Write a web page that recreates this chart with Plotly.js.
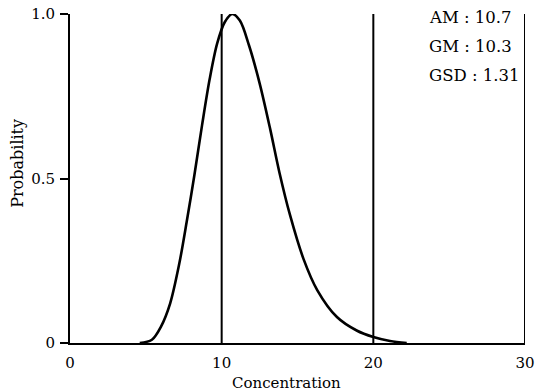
<!DOCTYPE html>
<html>
<head>
<meta charset="utf-8">
<script src="https://cdn.plot.ly/plotly-3.0.1.min.js"></script>
<style>html,body{margin:0;padding:0;background:#fff;}#chart{width:535px;height:391px;}</style>
</head>
<body>
<div id="chart"></div>
<script>
// Concentration values
const concentration = [4.6, 5.4, 6.0, 6.6, 7.2, 7.7, 8.2, 8.7, 9.2, 9.7, 10.2, 10.7, 11.2, 11.8, 12.5, 13.2, 13.8, 14.5, 15.4, 16.3, 17.6, 18.9, 20.0, 21.1, 22.2];
// Probability values
const probability   = [0.0, 0.01, 0.05, 0.12, 0.24, 0.37, 0.51, 0.66, 0.80, 0.91, 0.975, 1.0, 0.98, 0.905, 0.79, 0.65, 0.52, 0.39, 0.255, 0.161, 0.079, 0.038, 0.018, 0.006, 0.0];
// Vertical reference lines
const refLines = [10, 20, 30];
const refTop = 1.0;
// Statistics text
const statLabels = ["AM : 10.7", "GM : 10.3", "GSD : 1.31"];
const xTicks = [0, 10, 20, 30];
const yTicks = [0, 0.5, 1.0];
const yTickText = ["0", "0.5", "1.0"];

const serif = "DejaVu Serif, Liberation Serif, serif";

const traces = [{
  x: concentration, y: probability, type: "scatter", mode: "lines",
  line: {color: "#000", width: 2.6, shape: "spline", smoothing: 0.9},
  cliponaxis: false, hoverinfo: "skip"
}];

const shapes = refLines.map(v => ({
  type: "line", xref: "x", yref: "y", x0: v, x1: v, y0: 0, y1: refTop,
  line: {color: "#000", width: 2}
}));

const annotations = statLabels.map((t, i) => ({
  text: t, xref: "paper", yref: "paper", x: 0.785, y: 1.025 - i * 0.089,
  xanchor: "left", yanchor: "top", showarrow: false,
  font: {family: serif, size: 16.5, color: "#000"}
}));
annotations.push({
  text: "Concentration", xref: "paper", yref: "paper", x: 0.475, y: -0.122,
  xanchor: "center", yanchor: "middle", showarrow: false,
  font: {family: serif, size: 15, color: "#000"}
});
annotations.push({
  text: "Probability", xref: "paper", yref: "paper", x: -0.117, y: 0.547,
  xanchor: "center", yanchor: "middle", showarrow: false, textangle: -90,
  font: {family: serif, size: 16, color: "#000"}
});

const layout = {
  width: 535, height: 391,
  margin: {l: 70, r: 10, t: 14, b: 48},
  paper_bgcolor: "#fff", plot_bgcolor: "#fff",
  showlegend: false,
  font: {family: serif, size: 15, color: "#000"},
  xaxis: {
    range: [0, 30], tickvals: xTicks, ticks: "", showgrid: false, zeroline: false,
    showline: true, linecolor: "#000", linewidth: 2, ticklabelstandoff: 5,
    tickfont: {family: serif, size: 15, color: "#000"}, fixedrange: true
  },
  yaxis: {
    range: [0, 1.0], tickvals: yTicks, ticktext: yTickText, ticks: "outside", ticklen: 8,
    tickwidth: 2, tickcolor: "#000", showgrid: false, zeroline: false,
    showline: true, linecolor: "#000", linewidth: 2, ticklabelstandoff: 2,
    tickfont: {family: serif, size: 15, color: "#000"}, fixedrange: true
  },
  shapes: shapes,
  annotations: annotations
};

Plotly.newPlot("chart", traces, layout, {displayModeBar: false, staticPlot: true});
</script>
</body>
</html>
